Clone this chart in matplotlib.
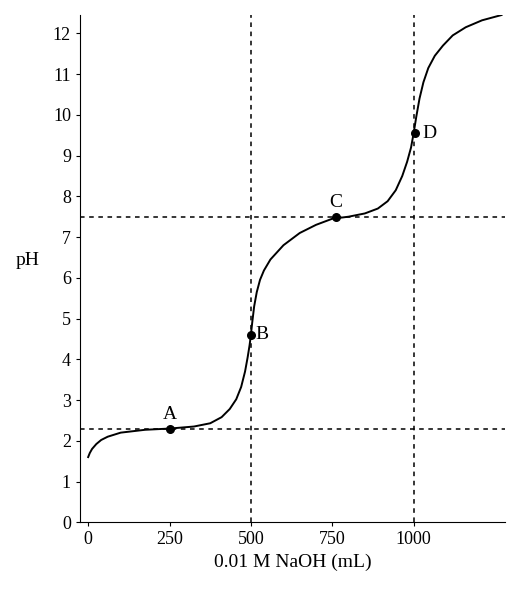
import matplotlib
matplotlib.use("Agg")
import matplotlib.pyplot as plt

vol = [0, 5, 12, 25, 40, 60, 100, 175, 250, 325, 375, 410, 435, 455, 470, 482, 490, 496, 500, 504, 510, 518, 528, 540, 560, 600, 650, 700, 750, 800, 850, 890, 920, 945, 965, 980, 992, 1000, 1008, 1018, 1030, 1045, 1065, 1090, 1120, 1160, 1210, 1270]
ph = [1.6, 1.7, 1.8, 1.92, 2.02, 2.1, 2.2, 2.27, 2.3, 2.35, 2.43, 2.58, 2.78, 3.02, 3.32, 3.7, 4.05, 4.35, 4.6, 4.9, 5.3, 5.65, 5.95, 6.18, 6.45, 6.8, 7.1, 7.3, 7.45, 7.5, 7.58, 7.7, 7.88, 8.15, 8.5, 8.85, 9.2, 9.55, 9.95, 10.4, 10.8, 11.15, 11.45, 11.7, 11.95, 12.15, 12.32, 12.45]
pt_labels = ["A", "B", "C", "D"]
pt_x = [250, 500, 762, 1005]
pt_y = [2.3, 4.6, 7.5, 9.55]
vlines = [500, 1000]
hlines = [2.3, 7.5]

plt.rcParams['font.family'] = ['Liberation Serif', 'DejaVu Serif']
fig = plt.figure(figsize=(5.13, 6.01), dpi=100)
ax = fig.add_axes([0.156, 0.131, 0.828, 0.844])
ax.plot(vol, ph, color='black', lw=1.4)
for v in vlines:
    ax.axvline(v, color='black', ls='--', lw=1.1, dashes=(3, 3))
for h in hlines:
    ax.axhline(h, color='black', ls='--', lw=1.1, dashes=(3, 3))
ax.scatter(pt_x, pt_y, color='black', s=30, zorder=5)
offs = {"A": (0, 0.35), "B": (35, 0.0), "C": (0, 0.35), "D": (45, 0.0)}
for l, x, y in zip(pt_labels, pt_x, pt_y):
    dx, dy = offs[l]
    ax.text(x + dx, y + dy, l, fontsize=14, ha='center', va='center')
ax.set_xlim(-25, 1280)
ax.set_ylim(0, 12.45)
ax.set_xticks([0, 250, 500, 750, 1000])
ax.set_yticks(range(0, 13))
ax.tick_params(labelsize=13, length=3)
for s in ['top', 'right']:
    ax.spines[s].set_visible(False)
ax.set_xlabel('0.01 M NaOH (mL)', fontsize=14)
ax.set_ylabel('pH', fontsize=14, rotation=0, labelpad=18)
fig.savefig('out.png', dpi=100)
